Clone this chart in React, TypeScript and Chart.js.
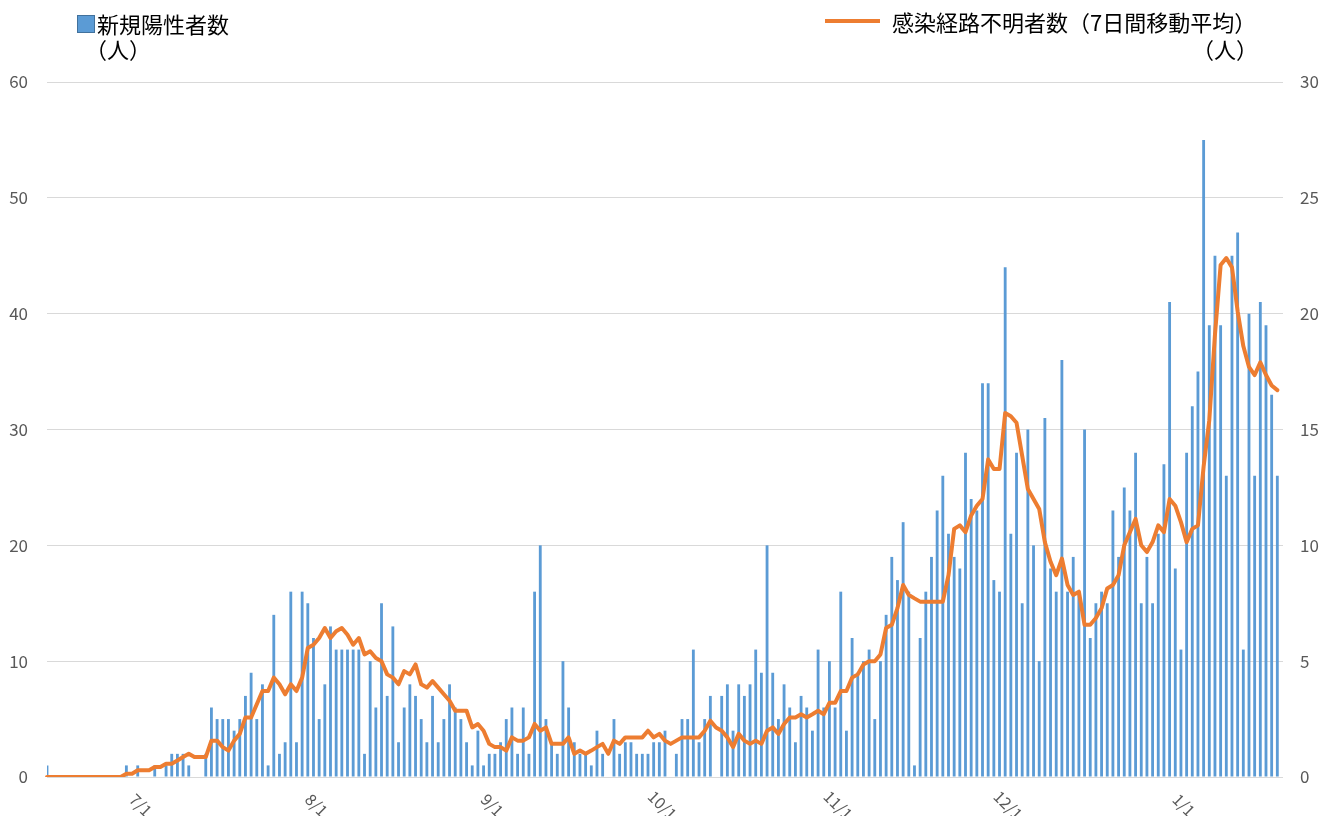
import React, { useEffect, useRef } from 'react';
import { Chart, registerables } from 'chart.js';

Chart.register(...registerables);

// ---- Data -------------------------------------------------------------
// Daily series start on 6/15 (year 2020) and run through 1/18.
const START_YEAR = 2020;
const START_MONTH = 6; // June
const START_DAY = 15;
const AXIS_DAYS = 219; // axis runs one day past the last data point

// x tick labels shown on the axis
const tickLabels = ['7/1', '8/1', '9/1', '10/1', '11/1', '12/1', '1/1'];

// 新規陽性者数 (left axis), per month
const casesJun = [1, 0, 0, 0, 0, 0, 0, 0, 0, 0, 0, 0, 0, 0, 1, 0];
const casesJul = [1, 0, 0, 1, 0, 1, 2, 2, 2, 1, 0, 0, 2, 6, 5, 5, 5, 4, 5, 7, 9, 5, 8, 1, 14, 2, 3, 16, 3, 16, 15];
const casesAug = [12, 5, 8, 13, 11, 11, 11, 11, 11, 2, 10, 6, 15, 7, 13, 3, 6, 8, 7, 5, 3, 7, 3, 5, 8, 6, 5, 3, 1, 4, 1];
const casesSep = [2, 2, 3, 5, 6, 2, 6, 2, 16, 20, 5, 3, 2, 10, 6, 3, 2, 2, 1, 4, 2, 0, 5, 2, 3, 3, 2, 2, 2, 3];
const casesOct = [3, 4, 0, 2, 5, 5, 11, 3, 5, 7, 0, 7, 8, 4, 8, 7, 8, 11, 9, 20, 9, 5, 8, 6, 3, 7, 6, 4, 11, 6, 10];
const casesNov = [6, 16, 4, 12, 9, 10, 11, 5, 10, 14, 19, 17, 22, 16, 1, 12, 16, 19, 23, 26, 21, 19, 18, 28, 24, 23, 34, 34, 17, 16];
const casesDec = [44, 21, 28, 15, 30, 20, 10, 31, 18, 16, 36, 16, 19, 16, 30, 12, 15, 16, 15, 23, 19, 25, 23, 28, 15, 19, 15, 21, 27, 41, 18];
const casesJan = [11, 28, 32, 35, 55, 39, 45, 39, 26, 45, 47, 11, 40, 26, 41, 39, 33, 26];

// 感染経路不明者数（7日間移動平均） (right axis), per month
const unknownJun = [0, 0, 0, 0, 0, 0, 0, 0, 0, 0, 0, 0, 0, 0, 0.14, 0.14];
const unknownJul = [0.29, 0.29, 0.29, 0.43, 0.43, 0.57, 0.57, 0.71, 0.86, 1.0, 0.86, 0.86, 0.86, 1.57, 1.57, 1.29, 1.14, 1.57, 1.86, 2.57, 2.57, 3.14, 3.71, 3.71, 4.29, 4.0, 3.57, 4.0, 3.71, 4.29, 5.57];
const unknownAug = [5.71, 6.0, 6.43, 6.0, 6.29, 6.43, 6.14, 5.71, 6.0, 5.29, 5.43, 5.14, 5.0, 4.43, 4.29, 4.0, 4.57, 4.43, 4.86, 4.0, 3.86, 4.14, 3.86, 3.57, 3.29, 2.86, 2.86, 2.86, 2.14, 2.29, 2.0];
const unknownSep = [1.43, 1.29, 1.29, 1.14, 1.71, 1.57, 1.57, 1.71, 2.29, 2.0, 2.14, 1.43, 1.43, 1.43, 1.71, 1.0, 1.14, 1.0, 1.14, 1.29, 1.43, 1.0, 1.57, 1.43, 1.71, 1.71, 1.71, 1.71, 2.0, 1.71];
const unknownOct = [1.86, 1.57, 1.43, 1.57, 1.71, 1.71, 1.71, 1.71, 2.0, 2.43, 2.14, 2.0, 1.71, 1.29, 1.86, 1.57, 1.43, 1.57, 1.43, 2.0, 2.14, 1.86, 2.29, 2.57, 2.57, 2.71, 2.57, 2.71, 2.86, 2.71, 3.2];
const unknownNov = [3.2, 3.71, 3.71, 4.29, 4.43, 4.86, 5.0, 5.0, 5.29, 6.43, 6.57, 7.29, 8.29, 7.86, 7.71, 7.57, 7.57, 7.57, 7.57, 7.57, 8.71, 10.71, 10.86, 10.57, 11.29, 11.71, 12.0, 13.71, 13.29, 13.29];
const unknownDec = [15.71, 15.57, 15.29, 13.86, 12.43, 12.0, 11.57, 10.14, 9.29, 8.71, 9.43, 8.29, 7.86, 8.0, 6.57, 6.57, 6.86, 7.29, 8.14, 8.29, 8.71, 10.0, 10.57, 11.14, 10.0, 9.71, 10.14, 10.86, 10.57, 12.0, 11.71];
const unknownJan = [11.0, 10.14, 10.71, 10.86, 13.4, 15.4, 19.1, 22.1, 22.4, 22.0, 20.1, 18.6, 17.7, 17.35, 17.9, 17.35, 16.9, 16.7];

const newCases = [...casesJun, ...casesJul, ...casesAug, ...casesSep, ...casesOct, ...casesNov, ...casesDec, ...casesJan];
const unknownAvg = [...unknownJun, ...unknownJul, ...unknownAug, ...unknownSep, ...unknownOct, ...unknownNov, ...unknownDec, ...unknownJan];

const categories: string[] = [];
for (let i = 0; i < AXIS_DAYS; i++) {
  const d = new Date(Date.UTC(START_YEAR, START_MONTH - 1, START_DAY + i));
  categories.push(`${d.getUTCMonth() + 1}/${d.getUTCDate()}`);
}

const barLegend = '新規陽性者数';
const lineLegend = '感染経路不明者数（7日間移動平均）';
const unitLabel = '（人）';

const FONT = '"Noto Sans CJK JP", "Noto Sans", sans-serif';
const BLUE = '#5B9BD5';
const ORANGE = '#ED7D31';
const TICK = '#595959';

const overlayPlugin = {
  id: 'overlay',
  afterDraw(chart: any) {
    const ctx = chart.ctx as CanvasRenderingContext2D;
    const xs = chart.scales.x;
    const bottom = chart.chartArea.bottom;
    ctx.save();
    // rotated month tick labels
    ctx.font = `16px ${FONT}`;
    ctx.fillStyle = TICK;
    categories.forEach((lab, i) => {
      if (!tickLabels.includes(lab)) return;
      const px = xs.getPixelForValue(i);
      ctx.save();
      ctx.translate(px + 3, bottom + 28);
      ctx.rotate(Math.PI / 4);
      ctx.textAlign = 'center';
      ctx.textBaseline = 'middle';
      ctx.fillText(lab, 0, 0);
      ctx.restore();
    });

    // legend
    ctx.textBaseline = 'middle';
    ctx.textAlign = 'left';
    ctx.font = `22px ${FONT}`;
    ctx.fillStyle = BLUE;
    ctx.fillRect(77.5, 15.5, 17, 17);
    ctx.strokeStyle = '#41719C';
    ctx.lineWidth = 1;
    ctx.strokeRect(77.5, 15.5, 17, 17);
    ctx.fillStyle = '#000000';
    ctx.fillText(barLegend, 97, 25);
    ctx.fillText(unitLabel, 85, 50);

    ctx.strokeStyle = ORANGE;
    ctx.lineWidth = 4;
    ctx.beginPath();
    ctx.moveTo(825, 21);
    ctx.lineTo(880, 21);
    ctx.stroke();
    ctx.fillText(lineLegend, 892, 23);
    ctx.textAlign = 'right';
    ctx.fillText(unitLabel, 1258, 50);
    ctx.restore();
  },
};

export default function App() {
  const canvasRef = useRef<HTMLCanvasElement | null>(null);

  useEffect(() => {
    if (!canvasRef.current) return;
    const chart = new Chart(canvasRef.current, {
      type: 'bar',
      data: {
        labels: categories,
        datasets: [
          {
            type: 'line',
            label: lineLegend,
            data: unknownAvg,
            yAxisID: 'y1',
            borderColor: ORANGE,
            backgroundColor: ORANGE,
            borderWidth: 4,
            pointRadius: 0,
            tension: 0,
            borderJoinStyle: 'round',
            borderCapStyle: 'round',
            order: 0,
          } as any,
          {
            type: 'bar',
            label: barLegend,
            data: newCases,
            yAxisID: 'y',
            backgroundColor: BLUE,
            barPercentage: 0.5,
            categoryPercentage: 1.0,
            order: 1,
          },
        ],
      },
      options: {
        responsive: false,
        animation: false,
        layout: { padding: { top: 82, left: 0, right: 0, bottom: 0 } },
        plugins: { legend: { display: false }, tooltip: { enabled: false } },
        scales: {
          x: {
            type: 'category',
            offset: false,
            grid: { display: false },
            border: { display: false },
            ticks: { display: false },
            afterFit: (s: any) => { s.height = 39; },
          },
          y: {
            position: 'left',
            min: 0,
            max: 60,
            ticks: { stepSize: 10, color: TICK, font: { size: 17, family: FONT }, padding: 19 },
            grid: { color: '#D9D9D9', lineWidth: 1, drawTicks: false },
            border: { display: false },
            afterFit: (s: any) => { s.width = 47; },
          },
          y1: {
            position: 'right',
            min: 0,
            max: 30,
            ticks: { stepSize: 5, color: TICK, font: { size: 17, family: FONT }, padding: 17 },
            grid: { display: false, drawTicks: false },
            border: { display: false },
            afterFit: (s: any) => { s.width = 47; },
          },
        },
      },
      plugins: [overlayPlugin],
    });
    return () => chart.destroy();
  }, []);

  return (
    <div style={{ position: 'absolute', left: 0, top: 0, width: 1330, height: 816, background: '#ffffff' }}>
      <canvas ref={canvasRef} width={1330} height={816} style={{ display: 'block' }} />
    </div>
  );
}
